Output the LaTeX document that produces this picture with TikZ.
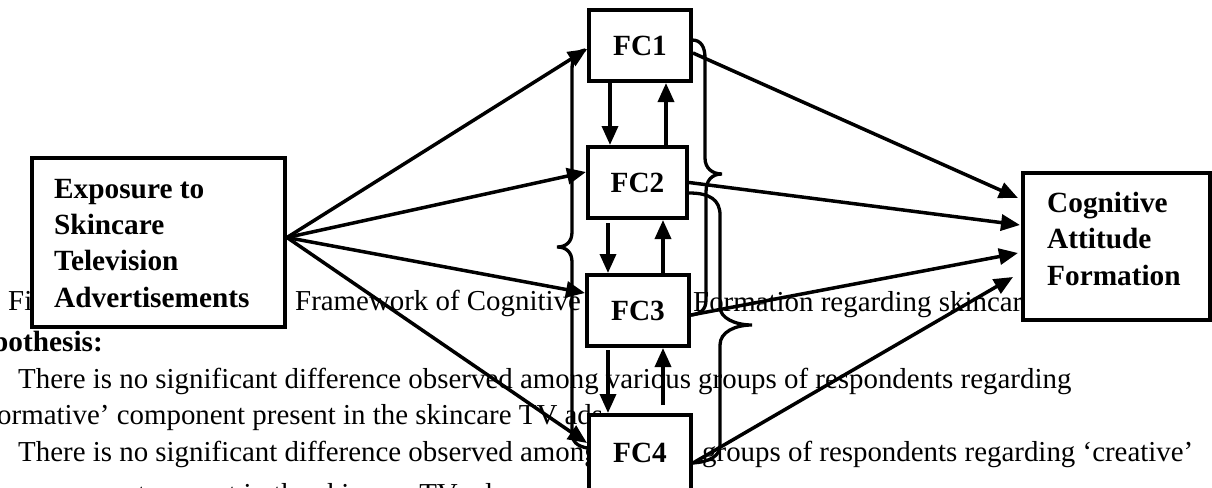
\documentclass[tikz,border=0pt]{standalone}
\usepackage{fontspec}
\setmainfont{Liberation Serif}
\usetikzlibrary{arrows.meta,calc}
\tikzset{
  box/.style={draw, line width=4pt, fill=white, inner sep=0pt, font=\bfseries\fontsize{29.3}{36}\selectfont},
  arr/.style={line width=3.5pt, -{Triangle[length=19pt,width=16pt]}},
  brace/.style={line width=3.3pt, line cap=round},
  bodytxt/.style={anchor=base west, inner sep=0pt, font=\fontsize{28.9}{36}\selectfont},
  boldtxt/.style={anchor=base west, inner sep=0pt, font=\bfseries\fontsize{29.3}{36}\selectfont},
}
\begin{document}
\begin{tikzpicture}[x=1pt,y=-1pt]
\useasboundingbox (0,0) rectangle (1212,487);
\clip (0,0) rectangle (1212,487);
% background page text
\node[bodytxt] (t1a) at (8,310) {Fi};
\node[bodytxt] (t1b) at (295,310) {Framework of Cognitive};
\node[bodytxt] (t1c) at (693,311) {Formation regarding skincar};
\node[boldtxt] (t2) at (-8,351) {pothesis:};
\node[bodytxt] (t3) at (18,388) {There is no significant difference observed among various groups of respondents regarding};
\node[bodytxt] (t4) at (-3,424) {ormative’ component present in the skincare TV ads.};
\node[bodytxt] (t5a) at (18,461) {There is no significant difference observed among};
\node[bodytxt] (t5b) at (702,461) {groups of respondents regarding ‘creative’};
\node[bodytxt] (t6) at (17,503) {component present in the skincare TV ads.};
% boxes
\node[box, minimum width=253pt, minimum height=169pt] (exp) at (158.5,242.5) {};
\node[box, minimum width=187pt, minimum height=147pt] (cog) at (1116.5,246.5) {};
\node[box, minimum width=102pt, minimum height=71pt] (fc1) at (640,45.5) {FC1};
\node[box, minimum width=99pt, minimum height=71pt] (fc2) at (637.5,182.5) {FC2};
\node[box, minimum width=102pt, minimum height=71pt] (fc3) at (638,310.5) {FC3};
\node[box, minimum width=102pt, minimum height=75pt] (fc4) at (640,452.5) {FC4};
\node[boldtxt] (e1) at (54,198) {Exposure to};
\node[boldtxt] (e2) at (54,234.5) {Skincare};
\node[boldtxt] (e3) at (54,270.5) {Television};
\node[boldtxt] (e4) at (54,307) {Advertisements};
\node[boldtxt] (c1) at (1047,212) {Cognitive};
\node[boldtxt] (c2) at (1047,248.5) {Attitude};
\node[boldtxt] (c3) at (1047,285) {Formation};
% exposure to FCs
\draw[arr] ($(exp.east)+(0,-5)$) -- ($(fc1.west)+(0,3.5)$);
\draw[arr] ($(exp.east)+(0,-5)$) -- ($(fc2.west)+(0,-10.5)$);
\draw[arr] ($(exp.east)+(0,-5)$) -- ($(fc3.west)+(0,-17.5)$);
\draw[arr] ($(exp.east)+(0,-5)$) -- ($(fc4.west)+(0,-9.5)$);
% FCs to cognitive
\draw[arr] ($(fc1.east)+(0,7.5)$) -- ($(cog.west)+(-3,-48.5)$);
\draw[arr] (fc2.east) -- ($(cog.west)+(-1,-21.5)$);
\draw[arr] ($(fc3.east)+(0,4.5)$) -- ($(cog.west)+(-3,6.5)$);
\draw[arr] ($(fc4.east)+(0,10.5)$) -- ($(cog.west)+(-8,30.5)$);
% vertical arrows
\coordinate (d12) at ($(fc1.south)+(-30,0)$);
\draw[arr] (d12) -- (d12 |- fc2.north);
\coordinate (u21) at ($(fc2.north)+(28.5,0)$);
\draw[arr] (u21) -- (u21 |- fc1.south);
\coordinate (d23) at ($(fc2.south)+(-29.5,3)$);
\draw[arr] (d23) -- (d23 |- fc3.north);
\coordinate (u32) at ($(fc3.north)+(25,0)$);
\draw[arr] (u32) -- (u32 |- fc2.south);
\coordinate (d34) at ($(fc3.south)+(-30,2)$);
\draw[arr] (d34) -- (d34 |- fc4.north);
\coordinate (u43) at ($(fc4.north)+(23,-8)$);
\draw[arr] (u43) -- (u43 |- fc3.south);
% braces
\draw[brace] (585,50) .. controls (575,52) and (572,58) .. (572,70) -- (572,232)
  .. controls (572,242) and (566,247) .. (557,247)
  .. controls (566,247) and (572,252) .. (572,262) -- (572,432)
  .. controls (572,442) and (577,446) .. (587,448);
\draw[brace] (692,40) .. controls (701,40) and (705,47) .. (705,58) -- (705,158)
  .. controls (705,168) and (712,174) .. (722,174)
  .. controls (712,174) and (706,180) .. (706,192) -- (706,300)
  .. controls (706,310) and (700,314) .. (691,315);
\draw[brace] (689,193) .. controls (710,193) and (720,200) .. (720,215) -- (720,307)
  .. controls (720,318) and (735,325) .. (752,325)
  .. controls (735,325) and (720,332) .. (720,345) -- (720,445)
  .. controls (720,456) and (710,462) .. (692,463);
\end{tikzpicture}
\end{document}
